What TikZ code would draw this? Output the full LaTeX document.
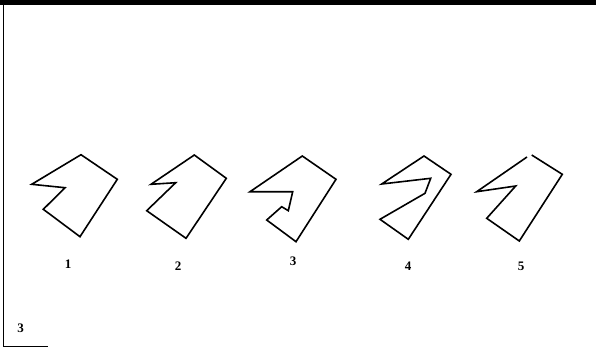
\documentclass[tikz,border=0pt]{standalone}
\usepackage{fontspec}
\setmainfont{Liberation Serif}
\begin{document}
\begin{tikzpicture}[x=1pt,y=-1pt,
  figline/.style={line width=1.6pt,line join=miter},
  lbl/.style={font=\fontsize{13}{13}\selectfont\bfseries,inner sep=0pt},
  frameline/.style={line width=1.8pt}]
\useasboundingbox (0,0) rectangle (596,348);
% frame
\fill (0,0) rectangle (596,4.5);
\draw[frameline] (3.5,2) -- (3.5,346.5) -- (48,346.5);
% figure 1
\draw[figline] (81,154.7) -- (117.3,179.3) -- (80,236.7) -- (43.3,209.3) -- (65,187.7) -- (31.7,184.3) -- cycle;
% figure 2
\draw[figline] (194.3,155) -- (226.3,178.3) -- (186,238.3) -- (146.7,210.7) -- (175.7,182.7) -- (151,184.3) -- cycle;
% figure 3
\draw[figline] (302.3,156) -- (336,179.3) -- (296,241.7) -- (266.7,220) -- (281.7,206.7) -- (288.3,210.7) -- (292.7,191.7) -- (250,191.7) -- cycle;
% figure 4
\draw[figline] (424,156) -- (451,174.3) -- (408.3,239.3) -- (380,219.3) -- (425,193.3) -- (430.7,178.3) -- (381.7,184) -- cycle;
% figure 5
\draw[figline] (527,157) -- (476.7,191.7) -- (515.7,186) -- (486.7,218.3) -- (519.3,241) -- (562.3,174.3) -- (531.7,155);
% labels
\node[lbl] (l1) at (68,264) {1};
\node[lbl] (l2) at (178,266) {2};
\node[lbl] (l3) at (293,261) {3};
\node[lbl] (l4) at (408,266) {4};
\node[lbl] (l5) at (521,266) {5};
\node[lbl] (l6) at (20.5,328) {3};
\end{tikzpicture}
\end{document}
